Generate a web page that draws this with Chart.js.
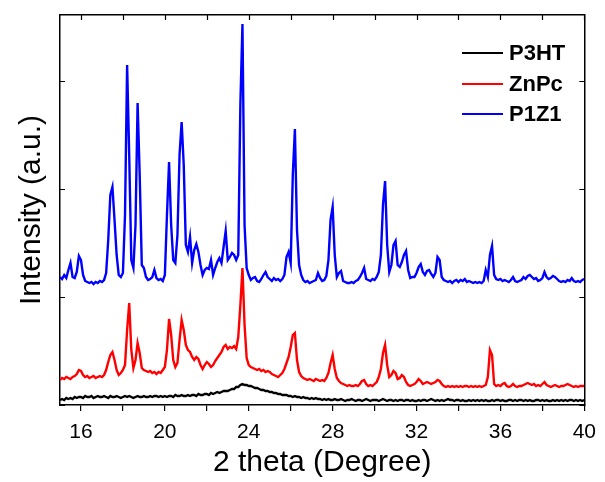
<!DOCTYPE html>
<html>
<head>
<meta charset="utf-8">
<title>XRD patterns</title>
<script src="https://cdn.jsdelivr.net/npm/chart.js@4/dist/chart.umd.min.js"></script>
<style>
  html, body { margin: 0; padding: 0; background: #fff; }
  #wrap { width: 605px; height: 482px; }
</style>
</head>
<body>
<div id="wrap"><canvas id="xrd" width="605" height="482"></canvas></div>
<script>
// Scan positions (2 theta, degree), 0.1 degree step
const twoTheta = [
  15.0,15.1,15.2,15.3,15.4,15.5,15.6,15.7,15.8,15.9,
  16.0,16.1,16.2,16.3,16.4,16.5,16.6,16.7,16.8,16.9,
  17.0,17.1,17.2,17.3,17.4,17.5,17.6,17.7,17.8,17.9,
  18.0,18.1,18.2,18.3,18.4,18.5,18.6,18.7,18.8,18.9,
  19.0,19.1,19.2,19.3,19.4,19.5,19.6,19.7,19.8,19.9,
  20.0,20.1,20.2,20.3,20.4,20.5,20.6,20.7,20.8,20.9,
  21.0,21.1,21.2,21.3,21.4,21.5,21.6,21.7,21.8,21.9,
  22.0,22.1,22.2,22.3,22.4,22.5,22.6,22.7,22.8,22.9,
  23.0,23.1,23.2,23.3,23.4,23.5,23.6,23.7,23.8,23.9,
  24.0,24.1,24.2,24.3,24.4,24.5,24.6,24.7,24.8,24.9,
  25.0,25.1,25.2,25.3,25.4,25.5,25.6,25.7,25.8,25.9,
  26.0,26.1,26.2,26.3,26.4,26.5,26.6,26.7,26.8,26.9,
  27.0,27.1,27.2,27.3,27.4,27.5,27.6,27.7,27.8,27.9,
  28.0,28.1,28.2,28.3,28.4,28.5,28.6,28.7,28.8,28.9,
  29.0,29.1,29.2,29.3,29.4,29.5,29.6,29.7,29.8,29.9,
  30.0,30.1,30.2,30.3,30.4,30.5,30.6,30.7,30.8,30.9,
  31.0,31.1,31.2,31.3,31.4,31.5,31.6,31.7,31.8,31.9,
  32.0,32.1,32.2,32.3,32.4,32.5,32.6,32.7,32.8,32.9,
  33.0,33.1,33.2,33.3,33.4,33.5,33.6,33.7,33.8,33.9,
  34.0,34.1,34.2,34.3,34.4,34.5,34.6,34.7,34.8,34.9,
  35.0,35.1,35.2,35.3,35.4,35.5,35.6,35.7,35.8,35.9,
  36.0,36.1,36.2,36.3,36.4,36.5,36.6,36.7,36.8,36.9,
  37.0,37.1,37.2,37.3,37.4,37.5,37.6,37.7,37.8,37.9,
  38.0,38.1,38.2,38.3,38.4,38.5,38.6,38.7,38.8,38.9,
  39.0,39.1,39.2,39.3,39.4,39.5,39.6,39.7,39.8,39.9,
  40.0
];

// P3HT film (stacked offset, a.u.)
const p3ht = [
  5,6,5,7,6,7,6,8,7,8,
  8,7,9,8,8,9,7,8,9,8,
  8,9,8,7,9,8,8,9,8,7,
  8,9,8,9,8,7,8,9,8,8,
  9,8,8,9,8,9,9,8,9,8,
  9,8,9,9,8,10,9,9,10,9,
  9,10,9,10,10,9,11,10,10,11,
  11,10,12,11,12,13,12,13,14,14,
  14,15,16,16,18,18,20,21,20,20,
  19,19,18,17,17,16,15,15,14,14,
  13,13,12,12,11,11,10,10,10,9,
  9,8,9,8,8,7,8,7,7,6,
  7,6,7,6,6,5,6,5,6,5,
  5,6,5,5,6,5,4,5,5,6,
  5,4,5,5,4,5,6,5,4,5,
  5,5,4,5,6,5,4,5,5,4,
  5,4,5,5,4,5,5,4,5,4,
  4,5,4,5,5,4,5,6,5,4,
  5,4,5,4,5,6,5,5,4,5,
  5,4,5,4,4,5,4,5,4,5,
  4,5,4,5,4,4,5,4,5,5,
  4,5,4,4,5,5,4,5,4,5,
  5,4,5,4,5,4,4,5,5,4,
  5,4,5,4,4,5,4,5,4,5,
  4,5,4,5,5,4,5,4,5,4,
  5
];

// ZnPc film
const znpc = [
  25,27,26,28,27,26,28,29,31,35,
  34,30,28,29,27,28,29,27,28,29,
  28,30,35,43,50,53,45,35,30,32,
  35,40,75,102,55,37,45,62,52,37,
  35,34,33,34,32,33,31,33,32,35,
  38,55,86,70,45,38,42,65,85,75,
  60,55,53,48,45,48,46,40,36,40,
  43,41,38,40,44,47,50,53,58,60,
  56,58,57,59,56,68,100,137,80,47,
  40,38,37,36,35,36,34,35,33,34,
  33,31,30,29,28,30,32,36,42,48,
  58,70,72,45,33,29,27,26,25,26,
  25,24,26,25,24,25,24,27,32,42,
  50,36,27,24,22,21,20,19,20,19,
  19,20,19,21,24,25,21,19,20,19,
  21,23,28,36,52,60,40,28,30,34,
  32,26,27,30,28,23,20,19,20,21,
  23,26,24,21,22,23,22,21,22,23,
  25,24,21,19,18,19,18,19,18,19,
  18,19,18,19,19,18,19,18,19,18,
  19,18,19,20,28,55,50,21,19,20,
  19,21,22,19,18,19,21,19,18,19,
  19,20,21,22,21,20,21,19,20,19,
  21,23,20,19,18,19,20,19,18,19,
  19,20,21,20,19,18,19,18,19,19,
  19
];

// P3HT:ZnPc blend (P1Z1)
const p1z1 = [
  128,126,130,127,135,142,128,127,133,149,
  145,130,124,123,122,123,121,123,122,124,
  123,125,132,165,210,218,185,150,130,128,
  132,190,340,250,145,137,180,302,230,140,
  137,128,125,126,128,135,127,125,126,124,
  130,190,243,180,145,142,170,250,283,240,
  160,153,168,142,155,161,153,140,130,135,
  137,136,145,130,137,143,147,142,158,174,
  145,148,152,150,145,150,300,381,180,137,
  130,125,127,128,124,123,126,130,133,128,
  126,124,127,125,126,124,126,130,148,153,
  142,230,276,175,140,130,125,123,124,122,
  123,124,125,132,127,124,125,129,145,185,
  198,150,128,132,134,124,123,122,122,123,
  122,124,125,128,132,137,126,125,124,126,
  125,128,133,150,200,224,160,133,140,160,
  164,140,138,143,150,154,135,127,128,128,
  132,138,141,133,130,134,135,131,128,132,
  148,145,128,125,124,123,124,122,124,125,
  123,125,124,126,123,124,123,122,123,122,
  123,122,124,135,128,150,159,130,126,125,
  126,124,125,124,123,125,128,124,123,124,
  125,128,126,129,130,128,126,127,124,125,
  127,133,128,126,127,129,128,126,124,123,
  124,123,125,124,127,124,123,124,123,125,
  126
];

const seriesNames = ['P3HT', 'ZnPc', 'P1Z1'];
const seriesColors = ['#000000', '#ff0000', '#0000ff'];
const xTickValues = [16, 18, 20, 22, 24, 26, 28, 30, 32, 34, 36, 38, 40];
const xLabelValues = [16, 20, 24, 28, 32, 36, 40];
const yTickValues = [0, 108, 216, 324];

const FONT = "'Liberation Sans', Arial, Helvetica, sans-serif";

function toPoints(ys) {
  return ys.map((y, i) => ({ x: twoTheta[i], y: y }));
}

// Inward tick marks on top, left and right frame sides, plus the in-plot legend
const frameAndLegend = {
  id: 'frameAndLegend',
  afterDraw(chart) {
    const ctx = chart.ctx;
    const area = chart.chartArea;
    const xs = chart.scales.x;
    const ys = chart.scales.y;
    ctx.save();
    ctx.strokeStyle = '#000';
    ctx.lineWidth = 1.2;
    ctx.beginPath();
    xTickValues.forEach(v => {
      const px = Math.round(xs.getPixelForValue(v)) + 0.5;
      ctx.moveTo(px, area.top);
      ctx.lineTo(px, area.top + 5);
    });
    yTickValues.forEach(v => {
      const py = Math.round(ys.getPixelForValue(v)) + 0.5;
      ctx.moveTo(area.left, py);
      ctx.lineTo(area.left + 5, py);
      ctx.moveTo(area.right, py);
      ctx.lineTo(area.right - 5, py);
    });
    ctx.stroke();

    // legend
    const lx0 = 462, lx1 = 503, tx = 509;
    const rowY = [53, 84, 114];
    ctx.font = 'bold 22px ' + FONT;
    ctx.textBaseline = 'middle';
    ctx.textAlign = 'left';
    chart.data.datasets.forEach((ds, i) => {
      ctx.strokeStyle = ds.borderColor;
      ctx.lineWidth = 2;
      ctx.beginPath();
      ctx.moveTo(lx0, rowY[i]);
      ctx.lineTo(lx1, rowY[i]);
      ctx.stroke();
      ctx.fillStyle = '#000';
      ctx.fillText(ds.label, tx, rowY[i] + 1);
    });
    ctx.restore();
  }
};

const seriesData = [p3ht, znpc, p1z1];

new Chart(document.getElementById('xrd'), {
  type: 'line',
  data: {
    datasets: seriesData.map((ys, i) => ({
      label: seriesNames[i],
      data: toPoints(ys),
      borderColor: seriesColors[i],
      backgroundColor: seriesColors[i],
      borderWidth: 2.4,
      pointRadius: 0,
      tension: 0,
      fill: false
    }))
  },
  options: {
    responsive: false,
    animation: false,
    devicePixelRatio: 1,
    layout: { padding: 0 },
    plugins: {
      legend: { display: false },
      tooltip: { enabled: false }
    },
    scales: {
      x: {
        type: 'linear',
        position: 'bottom',
        min: 15,
        max: 40,
        afterBuildTicks: s => { s.ticks = xTickValues.map(v => ({ value: v })); },
        afterFit: s => { s.height = 77; },
        ticks: {
          padding: 9,
          color: '#000',
          font: { family: FONT, size: 21 },
          maxRotation: 0,
          autoSkip: false,
          callback: v => (xLabelValues.includes(v) ? String(v) : '')
        },
        grid: { display: true, drawOnChartArea: false, drawTicks: true, tickLength: 6, color: '#000', lineWidth: 1.2 },
        border: { display: true, color: '#000', width: 1.5 },
        title: {
          display: true,
          text: '2 theta (Degree)',
          color: '#000',
          font: { family: FONT, size: 30 },
          padding: { top: 0, bottom: 1 }
        }
      },
      xTop: {
        type: 'linear',
        position: 'top',
        min: 15,
        max: 40,
        afterFit: s => { s.height = 15; },
        ticks: { display: false },
        grid: { display: false },
        border: { display: true, color: '#000', width: 1.5 }
      },
      y: {
        type: 'linear',
        position: 'left',
        min: 0,
        max: 390,
        afterBuildTicks: s => { s.ticks = yTickValues.map(v => ({ value: v })); },
        afterFit: s => { s.width = 60; },
        ticks: { display: false },
        grid: { display: false },
        border: { display: true, color: '#000', width: 1.5 },
        title: {
          display: true,
          text: 'Intensity (a.u.)',
          color: '#000',
          font: { family: FONT, size: 30 },
          padding: { top: 14, bottom: 0 }
        }
      },
      yRight: {
        type: 'linear',
        position: 'right',
        min: 0,
        max: 390,
        afterFit: s => { s.width = 18; },
        ticks: { display: false },
        grid: { display: false },
        border: { display: true, color: '#000', width: 1.5 }
      }
    }
  },
  plugins: [frameAndLegend]
});
</script>
</body>
</html>
